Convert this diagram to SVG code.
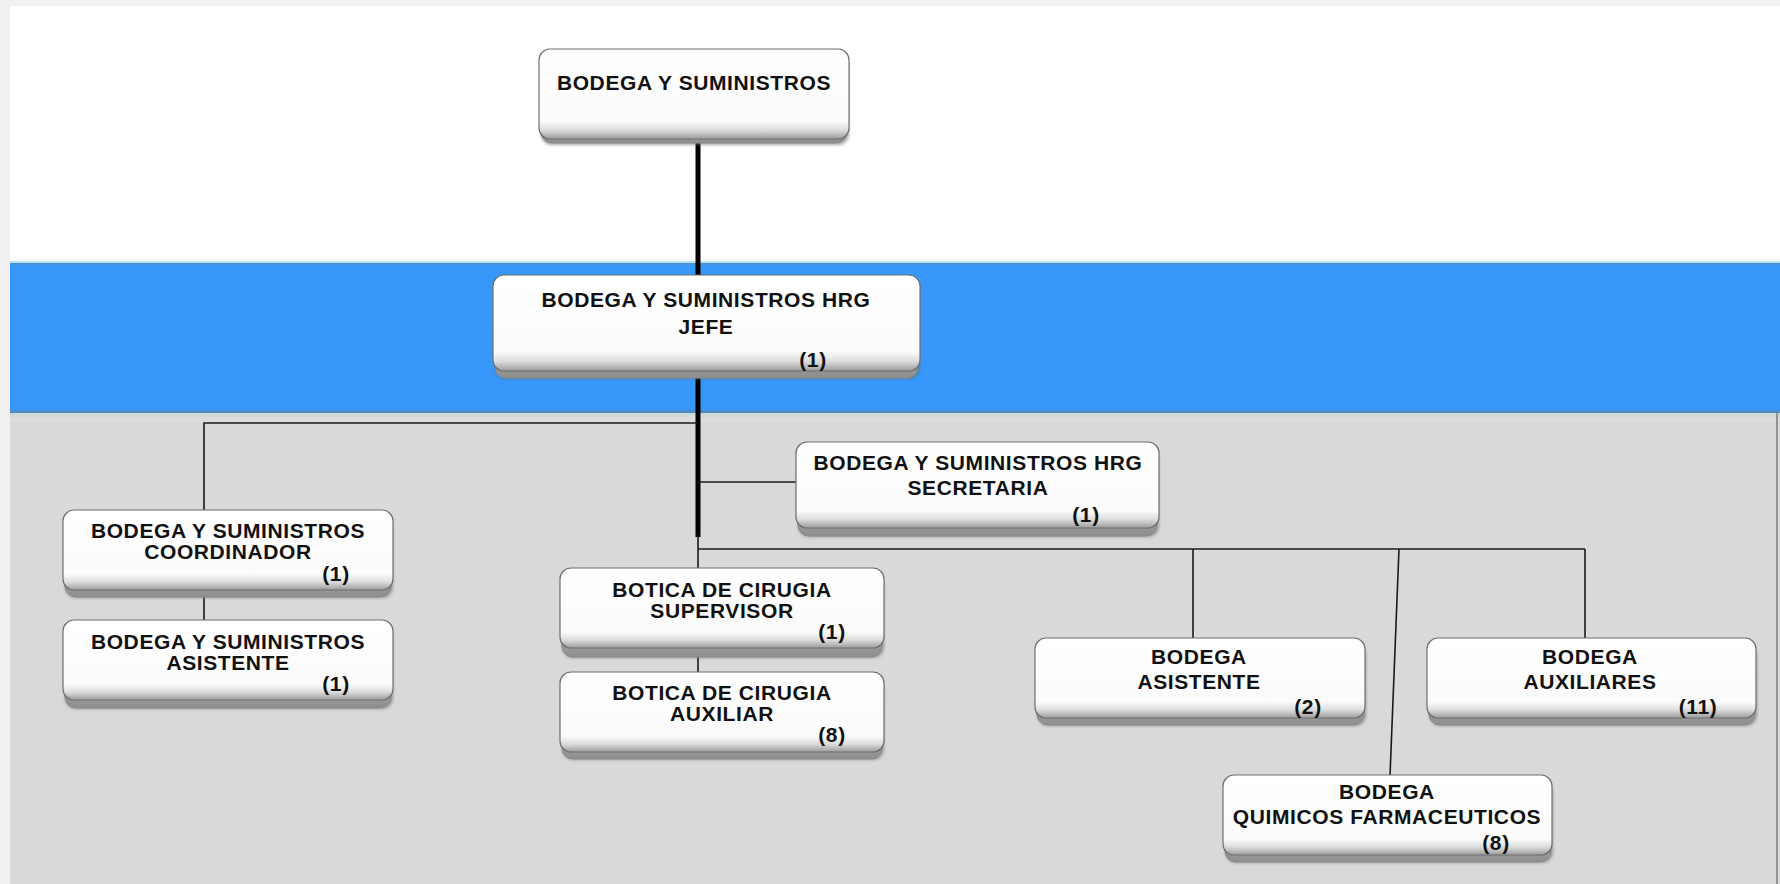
<svg xmlns="http://www.w3.org/2000/svg" width="1780" height="884" viewBox="0 0 1780 884">
<defs>
<linearGradient id="face" x1="0" y1="0" x2="0" y2="1">
<stop offset="0" stop-color="#ffffff"/>
<stop offset="0.8" stop-color="#fbfbfb"/>
<stop offset="0.9" stop-color="#dcdcdc"/>
<stop offset="1" stop-color="#9c9c9c"/>
</linearGradient>
<linearGradient id="back" x1="0" y1="0" x2="0" y2="1">
<stop offset="0" stop-color="#e6e6e6"/>
<stop offset="1" stop-color="#8e8e8e"/>
</linearGradient>
<filter id="blur" x="-5%" y="-10%" width="110%" height="130%">
<feGaussianBlur stdDeviation="1.5"/>
</filter>
</defs>
<style>
.t{font-family:"Liberation Sans",Arial,sans-serif;font-weight:bold;font-size:21px;letter-spacing:0.6px;fill:#111;text-anchor:middle}
.face{fill:url(#face);stroke:#6f6f6f;stroke-width:1.2}
.back{fill:url(#back);stroke:#8a8a8a;stroke-width:1}
.sh{fill:#6e6e6e;filter:url(#blur);opacity:0.6}
.thin{stroke:#1a1a1a;stroke-width:1.6;fill:none}
.thick{stroke:#000;stroke-width:5;fill:none}
</style>
<g id="background">
<rect x="0" y="0" width="1780" height="884" fill="#f1f1f1"/>
<rect x="10" y="6" width="1770" height="256" fill="#ffffff"/>
<rect x="10" y="262" width="1770" height="152" fill="#3797fa"/>
<rect x="10" y="261" width="1770" height="2" fill="#b8e4f4"/>
<rect x="10" y="263" width="1770" height="2" fill="#4a8ed6"/>
<rect x="10" y="410" width="1770" height="3" fill="#4d8cc8"/>
<rect x="10" y="413" width="1770" height="471" fill="#d9d9d9"/>
<rect x="10" y="413" width="1770" height="4" fill="#cfdcd6"/>
<rect x="10" y="417" width="1770" height="6" fill="#dcdcdc"/>
<rect x="1776" y="413" width="2" height="471" fill="#8f9694"/>
</g>
<g id="connectors">
<line class="thick" x1="698" y1="139" x2="698" y2="276"/>
<line class="thick" x1="698" y1="370" x2="698" y2="537"/>
<polyline class="thin" points="698,423 204,423 204,511"/>
<line class="thin" x1="204" y1="596" x2="204" y2="621"/>
<line class="thin" x1="698" y1="482" x2="797" y2="482"/>
<line class="thin" x1="698" y1="549" x2="1585" y2="549"/>
<line class="thin" x1="698" y1="535" x2="698" y2="569"/>
<line class="thin" x1="698" y1="645" x2="698" y2="673"/>
<line class="thin" x1="1193" y1="549" x2="1193" y2="639"/>
<line class="thin" x1="1585" y1="549" x2="1585" y2="639"/>
<line class="thin" x1="1399" y1="549" x2="1390" y2="776"/>
</g>
<g id="n-bodega-suministros">
<rect class="sh" x="541" y="56" width="308" height="89" rx="11"/>
<rect class="back" x="541" y="54" width="306" height="89" rx="11"/>
<rect class="face" x="539" y="49" width="310" height="90" rx="11"/>
<text class="t" x="694" y="90">BODEGA Y SUMINISTROS</text>
</g>
<g id="n-jefe">
<rect class="sh" x="495" y="282" width="425" height="97" rx="11"/>
<rect class="back" x="495" y="280" width="423" height="98" rx="11"/>
<rect class="face" x="493" y="275" width="427" height="96" rx="11"/>
<text class="t" x="706" y="307">BODEGA Y SUMINISTROS HRG</text>
<text class="t" x="706" y="334">JEFE</text>
<text class="t" x="813" y="367">(1)</text>
</g>
<g id="n-secretaria">
<rect class="sh" x="798" y="449" width="361" height="88" rx="11"/>
<rect class="back" x="798" y="447" width="359" height="89" rx="11"/>
<rect class="face" x="796" y="442" width="363" height="86" rx="11"/>
<text class="t" x="978" y="470">BODEGA Y SUMINISTROS HRG</text>
<text class="t" x="978" y="495">SECRETARIA</text>
<text class="t" x="1086" y="522">(1)</text>
</g>
<g id="n-coordinador">
<rect class="sh" x="65" y="517" width="328" height="81" rx="11"/>
<rect class="back" x="65" y="515" width="326" height="82" rx="11"/>
<rect class="face" x="63" y="510" width="330" height="80" rx="11"/>
<text class="t" x="228" y="538">BODEGA Y SUMINISTROS</text>
<text class="t" x="228" y="559">COORDINADOR</text>
<text class="t" x="336" y="581">(1)</text>
</g>
<g id="n-asistente-bys">
<rect class="sh" x="65" y="627" width="328" height="82" rx="11"/>
<rect class="back" x="65" y="625" width="326" height="83" rx="11"/>
<rect class="face" x="63" y="620" width="330" height="80" rx="11"/>
<text class="t" x="228" y="649">BODEGA Y SUMINISTROS</text>
<text class="t" x="228" y="670">ASISTENTE</text>
<text class="t" x="336" y="691">(1)</text>
</g>
<g id="n-supervisor">
<rect class="sh" x="562" y="575" width="322" height="83" rx="11"/>
<rect class="back" x="562" y="573" width="320" height="84" rx="11"/>
<rect class="face" x="560" y="568" width="324" height="80" rx="11"/>
<text class="t" x="722" y="597">BOTICA DE CIRUGIA</text>
<text class="t" x="722" y="618">SUPERVISOR</text>
<text class="t" x="832" y="639">(1)</text>
</g>
<g id="n-auxiliar">
<rect class="sh" x="562" y="679" width="322" height="81" rx="11"/>
<rect class="back" x="562" y="677" width="320" height="82" rx="11"/>
<rect class="face" x="560" y="672" width="324" height="80" rx="11"/>
<text class="t" x="722" y="700">BOTICA DE CIRUGIA</text>
<text class="t" x="722" y="721">AUXILIAR</text>
<text class="t" x="832" y="742">(8)</text>
</g>
<g id="n-bodega-asistente">
<rect class="sh" x="1037" y="645" width="329" height="81" rx="11"/>
<rect class="back" x="1037" y="643" width="327" height="82" rx="11"/>
<rect class="face" x="1035" y="638" width="330" height="80" rx="11"/>
<text class="t" x="1199" y="664">BODEGA</text>
<text class="t" x="1199" y="689">ASISTENTE</text>
<text class="t" x="1308" y="714">(2)</text>
</g>
<g id="n-bodega-auxiliares">
<rect class="sh" x="1429" y="645" width="328" height="81" rx="11"/>
<rect class="back" x="1429" y="643" width="326" height="82" rx="11"/>
<rect class="face" x="1427" y="638" width="329" height="80" rx="11"/>
<text class="t" x="1590" y="664">BODEGA</text>
<text class="t" x="1590" y="689">AUXILIARES</text>
<text class="t" x="1698" y="714">(11)</text>
</g>
<g id="n-quimicos">
<rect class="sh" x="1225" y="782" width="328" height="81" rx="11"/>
<rect class="back" x="1225" y="780" width="326" height="82" rx="11"/>
<rect class="face" x="1223" y="775" width="329" height="80" rx="11"/>
<text class="t" x="1387" y="799">BODEGA</text>
<text class="t" x="1387" y="824">QUIMICOS FARMACEUTICOS</text>
<text class="t" x="1496" y="850">(8)</text>
</g>
</svg>
